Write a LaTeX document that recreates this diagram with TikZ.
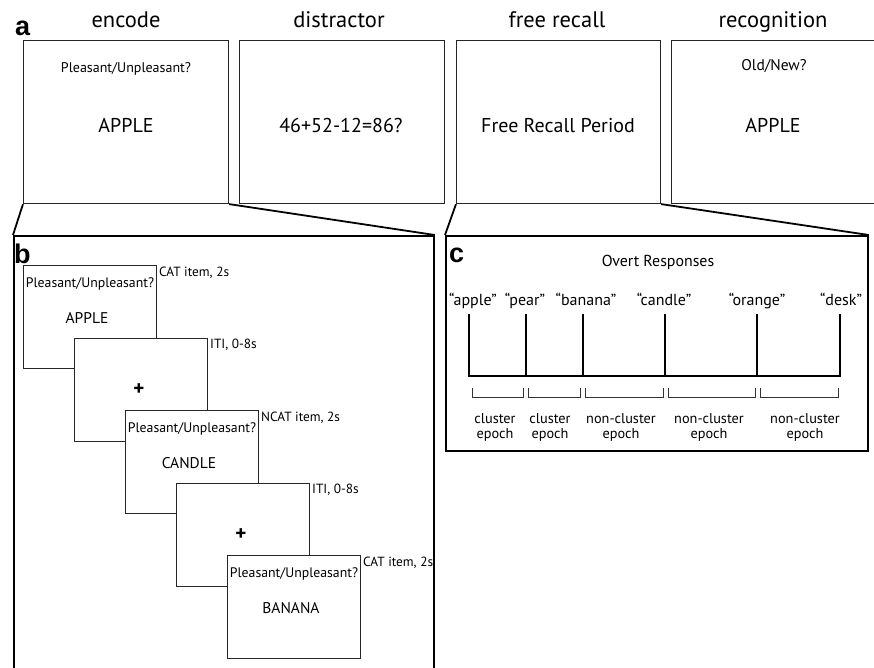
\documentclass[tikz,border=0pt]{standalone}
\usepackage{fontspec}
\setmainfont{PT Sans}
\newfontfamily\panelfont{Liberation Sans}
\begin{document}
\begin{tikzpicture}[x=1pt,y=-1pt,
  screen/.style={draw=black!85, line width=1.1pt, fill=white, minimum width=205pt,
    minimum height=163pt, anchor=north west, inner sep=0pt},
  trial/.style={draw=black!85, line width=1pt, fill=white, minimum width=133pt,
    minimum height=103pt, anchor=north west, inner sep=0pt},
  panel/.style={draw, line width=1.8pt, anchor=north west, inner sep=0pt},
  zoomline/.style={line width=1.8pt},
  title/.style={font=\fontsize{22.5}{26}\selectfont, anchor=base},
  bigword/.style={font=\fontsize{20}{24}\selectfont, anchor=base},
  question/.style={font=\fontsize{14}{16}\selectfont, anchor=base},
  smallq/.style={font=\fontsize{13.8}{16}\selectfont, anchor=base},
  smallword/.style={font=\fontsize{15.5}{18}\selectfont, anchor=base},
  note/.style={font=\fontsize{13.3}{15}\selectfont, anchor=base west, inner sep=0pt},
  letter/.style={font=\panelfont\bfseries\fontsize{27}{30}\selectfont, anchor=base west, inner sep=0pt},
  said/.style={font=\fontsize{16}{18}\selectfont, anchor=base},
  epoch/.style={font=\fontsize{14.3}{15.5}\selectfont, align=center, anchor=north},
  tick/.style={line width=1.8pt},
  bracket/.style={line width=0.7pt, draw=black!80}
]
\path[use as bounding box, clip] (0,0) rectangle (874,667);
\fill[white] (0,0) rectangle (874,667);

% ---- (a) task phases ----
\node[letter] (la) at (15,35) {a};
\node[screen] (enc) at (23,40) {};
\node[screen] (dis) at (239,40) {};
\node[screen, minimum width=204pt] (fr) at (456,40) {};
\node[screen] (rec) at (671,40) {};

\node[title] (tenc) at (126,27) {encode};
\node[title] (tdis) at (339,27) {distractor};
\node[title] (tfr) at (557,27) {free recall};
\node[title] (trec) at (773,27) {recognition};

\node[question] (qenc) at (126,72) {Pleasant/Unpleasant?};
\node[bigword] (wenc) at (126,132) {APPLE};
\node[bigword] (wdis) at (341,132) {46+52-12=86?};
\node[bigword] (wfr) at (558,132) {Free Recall Period};
\node[question, font=\fontsize{15.5}{18}\selectfont] (qrec) at (774,70) {Old/New?};
\node[bigword] (wrec) at (773,132) {APPLE};

% ---- (b) encoding trials ----
\node[panel, minimum width=420pt, minimum height=460pt] (pb) at (13,235) {};
\node[letter] (lb) at (14,263) {b};

\foreach \i/\q/\w/\lab in {1/1/APPLE/{CAT item, 2s},2/0/+/{ITI, 0-8s},3/1/CANDLE/{NCAT item, 2s},4/0/+/{ITI, 0-8s},5/1/BANANA/{CAT item, 2s}}{
  \node[trial] (s\i) at ({23+51*(\i-1)},{265+72.5*(\i-1)}) {};
  \ifnum\q=1
    \node[smallq] (q\i) at ([yshift=-22pt]s\i.north) {Pleasant/Unpleasant?};
    \node[smallword] (w\i) at ([xshift=-3pt,yshift=-58pt]s\i.north) {\w};
  \else
    \node[font=\fontsize{21}{24}\selectfont\bfseries] (w\i) at ([xshift=-2pt]s\i.center) {+};
  \fi
  \node[note] (n\i) at ([xshift=2pt,yshift=-11pt]s\i.north east) {\lab};
}

\draw[zoomline] (enc.south west) -- (pb.north west);
\draw[zoomline] (enc.south east) -- (pb.north east);

% ---- (c) recall timeline ----
\node[panel, minimum width=422pt, minimum height=215pt] (pc) at (445,235) {};
\node[letter] (lc) at (449,262) {c};
\node[question, font=\fontsize{15.9}{18}\selectfont] (ovr) at (658,266) {Overt Responses};

\draw[zoomline] (fr.south west) -- (pc.north west);
\draw[zoomline] (fr.south east) -- (pc.north east);

\foreach \i/\x/\lx/\w in {1/469/473/apple,2/526/525/pear,3/583/586/banana,4/665/664/candle,5/757/757/orange,6/840/841/desk}{
  \coordinate (top\i) at (\x,314);
  \coordinate (bot\i) at (\x,376);
  \node[said] (r\i) at (\lx,305) {“\w”};
  \draw[tick] (top\i) -- (bot\i);
}
\draw[tick] ([xshift=-0.9pt]bot1) -- ([xshift=0.9pt]bot6);

\foreach \i/\a/\b/\c/\t in {1/472/523/495/{cluster\\epoch},2/528/580/550/{cluster\\epoch},3/585/663/621/{non-cluster\\epoch},4/668/755/709/{non-cluster\\epoch},5/760/838/805/{non-cluster\\epoch}}{
  \coordinate (ba\i) at (\a,388);
  \coordinate (bb\i) at (\b,388);
  \draw[bracket] (ba\i) -- ++(0,9) -| (bb\i);
  \node[epoch] (e\i) at (\c,409.5) {\t};
}
\end{tikzpicture}
\end{document}
